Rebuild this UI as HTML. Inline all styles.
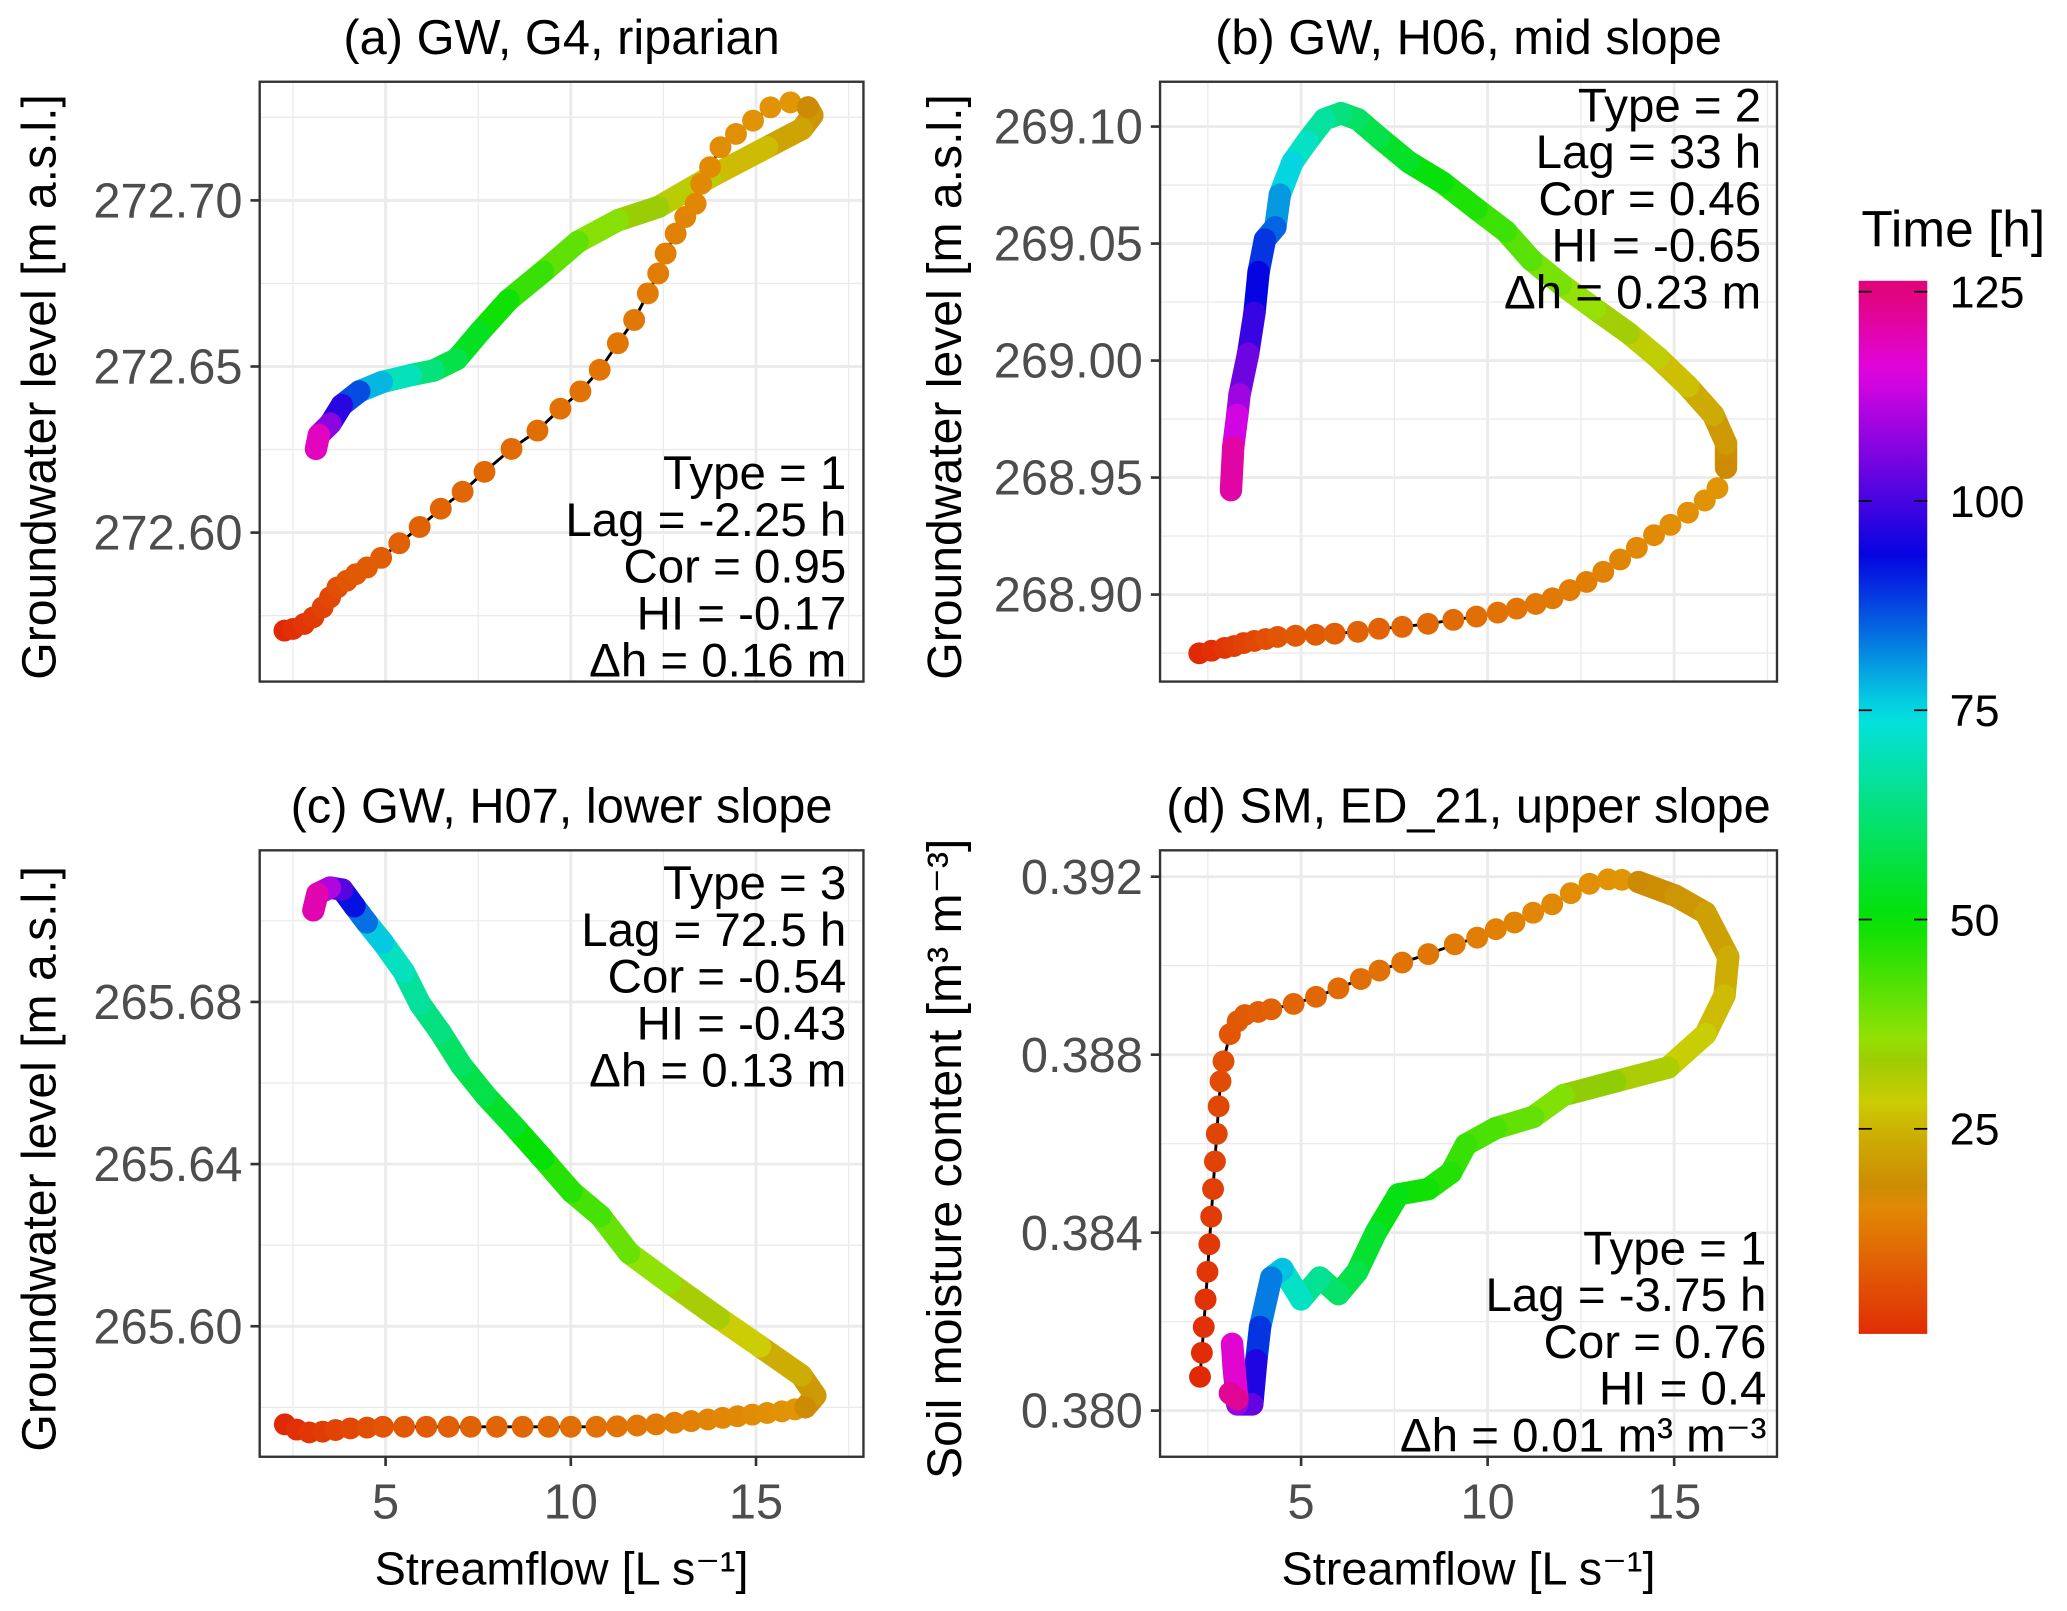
<!DOCTYPE html>
<html><head><meta charset="utf-8">
<style>
html,body{margin:0;padding:0;background:#fff;}
svg{display:block;font-family:"Liberation Sans",Arial,sans-serif;}
</style></head>
<body>
<svg id="fig" xmlns="http://www.w3.org/2000/svg" width="2067" height="1611" viewBox="0 0 1568 1222" preserveAspectRatio="none">
<rect x="0" y="0" width="1568" height="1222" fill="#fff"/>
</svg>
<script>
// ---------- data ----------
const xTicks = [5, 10, 15];
const xTickLabels = ["5", "10", "15"];
const cbTicks = [25, 50, 75, 100, 125];

const tA = [0,1,2,3,4,5,6,7,7.5,8,8.4,8.8,9.2,9.5,9.9,10.3,10.6,11,11.4,11.7,12.1,12.5,12.8,13.2,13.6,13.9,14.3,14.7,15,15.4,15.8,16.1,16.5,16.9,17.2,17.6,18,19,21,24,28,32,35,39,43,47,51,55,60,66,74,82,92,102,112,125];
const qA = [2.27,2.5,2.8,3.05,3.3,3.5,3.7,3.95,4.2,4.5,4.88,5.37,5.92,6.49,7.08,7.67,8.4,9.1,9.72,10.26,10.78,11.27,11.71,12.08,12.36,12.56,12.83,13.09,13.37,13.52,13.76,14.04,14.46,14.92,15.39,15.93,16.4,16.52,16.24,15.3,13.76,12.36,11.27,10.19,9.25,8.32,7.55,6.92,6.3,5.68,4.9,4.29,3.82,3.51,3.2,3.12];
const vA = [272.5705,272.571,272.5725,272.5745,272.5775,272.5805,272.5835,272.5855,272.5875,272.5895,272.5924,272.5968,272.6017,272.6072,272.6123,272.6183,272.6252,272.6307,272.6373,272.6425,272.649,272.657,272.664,272.672,272.678,272.684,272.690,272.695,272.699,272.705,272.710,272.716,272.720,272.724,272.728,272.7295,272.728,272.7256,272.7215,272.716,272.707,272.698,272.694,272.6875,272.6785,272.670,272.6605,272.6522,272.6488,272.6474,272.6453,272.6425,272.6384,272.6328,272.6294,272.6252];
const yTicksA = [272.60, 272.65, 272.70];
const yLabelsA = ["272.60", "272.65", "272.70"];
const statsA = ["Type = 1", "Lag = -2.25 h", "Cor = 0.95", "HI = -0.17", "Δh = 0.16 m"];

const tB = [0,1,2,3,4,5,6,7,7.5,8,8.5,9,9.4,9.9,10.3,10.8,11.2,11.7,12.1,12.6,13,13.5,13.9,14.4,14.8,15.3,15.7,16.2,16.6,17.1,17.5,18,19,22,25,28,31,34,37,40,43,46,49,52,56,59,62,65,69,73,78,83,87,91,96,101,107,111,117,125];
const qB = [2.27,2.6,2.95,3.2,3.46,3.75,4.05,4.37,4.85,5.39,5.9,6.52,7.09,7.71,8.4,9.08,9.7,10.27,10.78,11.29,11.74,12.2,12.65,13.1,13.55,14.0,14.46,14.9,15.37,15.82,16.16,16.39,16.39,16.05,15.37,14.57,13.78,12.87,11.97,11.17,10.49,9.7,8.79,7.89,7.09,6.52,6.07,5.62,5.16,4.77,4.43,4.31,4.03,3.86,3.75,3.58,3.35,3.29,3.18,3.12];
const vB = [268.8749,268.876,268.8772,268.878,268.8793,268.8802,268.881,268.8819,268.8824,268.8828,268.8833,268.8841,268.8854,268.8862,268.8875,268.8892,268.8906,268.8923,268.894,268.896,268.8984,268.9019,268.9054,268.9097,268.915,268.920,268.9254,268.9298,268.935,268.9402,268.9455,268.9542,268.9646,268.9768,268.989,269.0012,269.0117,269.0221,269.0326,269.043,269.0552,269.0648,269.0761,269.0848,269.0953,269.1031,269.1057,269.1031,269.0936,269.0848,269.0709,269.057,269.0517,269.0378,269.0204,269.003,268.9855,268.9768,268.9629,268.9446];
const yTicksB = [268.90, 268.95, 269.00, 269.05, 269.10];
const yLabelsB = ["268.90", "268.95", "269.00", "269.05", "269.10"];
const statsB = ["Type = 2", "Lag = 33 h", "Cor = 0.46", "HI = -0.65", "Δh = 0.23 m"];

const tC = [0,1,2,3,4,5,6,7,7.5,8,8.5,9,9.5,10,10.5,11,11.5,12,12.5,13,13.5,14,14.5,15,15.5,16,16.5,17,17.5,18,19,22,26,30,34,38,42,45,48,52,56,59,62,65,68,73,80,88,97,106,115,125];
const qC = [2.28,2.6,2.94,3.3,3.65,4.05,4.5,4.93,5.5,6.1,6.7,7.3,8.0,8.7,9.4,10.0,10.69,11.25,11.79,12.3,12.8,13.25,13.7,14.1,14.5,14.9,15.3,15.7,16.05,16.33,16.6,16.22,15.11,14.0,12.68,11.57,10.8,10.02,9.25,8.47,7.7,7.04,6.48,5.93,5.49,4.93,4.49,4.16,3.83,3.5,3.16,3.05];
const vC = [265.5758,265.5745,265.5738,265.574,265.5744,265.5748,265.575,265.5752,265.5752,265.5752,265.5752,265.5752,265.5752,265.5752,265.5752,265.5752,265.5752,265.5753,265.5755,265.5758,265.5762,265.5766,265.577,265.5774,265.5778,265.5782,265.5786,265.579,265.5795,265.580,265.5829,265.5879,265.595,265.602,265.6106,265.6181,265.6272,265.6332,265.6413,265.6493,265.6569,265.6644,265.6725,265.6795,265.6875,265.6946,265.6996,265.7036,265.7077,265.7082,265.7067,265.7026];
const yTicksC = [265.60, 265.64, 265.68];
const yLabelsC = ["265.60", "265.64", "265.68"];
const statsC = ["Type = 3", "Lag = 72.5 h", "Cor = -0.54", "HI = -0.43", "Δh = 0.13 m"];

const tD = [0,0.5,1,1.5,2,2.5,3,3.5,4,4.5,5,5.5,6,7,7.5,8,8.5,9,9.5,10,10.5,11,11.5,12,12.5,13,13.5,14,14.5,15,15.5,16,16.5,17,17.5,18,19,21,23,25,27,30,33,36,39,42,44,46,48,50,53,56,59,63,68,74,80,86,92,100,106,110,114,120,125];
const qD = [2.29,2.34,2.39,2.44,2.49,2.54,2.59,2.64,2.69,2.74,2.79,2.84,2.92,3.09,3.3,3.49,3.85,4.2,4.8,5.4,6.0,6.6,7.1,7.71,8.41,9.12,9.72,10.22,10.72,11.22,11.73,12.23,12.73,13.23,13.6,14.04,15.04,15.84,16.45,16.35,15.84,14.84,13.43,12.03,11.22,10.22,9.42,9.02,8.41,7.61,7.0,6.5,6.0,5.5,5.0,4.5,4.2,3.9,3.8,3.69,3.29,3.19,3.15,3.29,3.09];
const vD = [0.38076,0.3813,0.38188,0.3825,0.38312,0.38374,0.38436,0.38498,0.3856,0.38622,0.38684,0.3874,0.38785,0.38846,0.38875,0.38889,0.38896,0.38902,0.38914,0.3893,0.38949,0.3897,0.38989,0.39007,0.39026,0.39048,0.39063,0.39082,0.39097,0.39119,0.39138,0.39163,0.39184,0.39194,0.39193,0.39188,0.39157,0.39119,0.3902,0.38933,0.38846,0.38771,0.3874,0.38709,0.3866,0.38635,0.38598,0.38535,0.38498,0.38486,0.384,0.38312,0.38262,0.38299,0.3825,0.38318,0.38299,0.38188,0.38113,0.38014,0.38014,0.381,0.3815,0.38026,0.38039];
const yTicksD = [0.380, 0.384, 0.388, 0.392];
const yLabelsD = ["0.380", "0.384", "0.388", "0.392"];
const statsD = ["Type = 1", "Lag = -3.75 h", "Cor = 0.76", "HI = 0.4", "Δh = 0.01 m³ m⁻³"];

// ---------- rendering ----------
const NS = "http://www.w3.org/2000/svg";
const svg = document.getElementById("fig");
function mk(tag, attrs, parent) {
  const e = document.createElementNS(NS, tag);
  for (const k in attrs) e.setAttribute(k, attrs[k]);
  (parent || svg).appendChild(e);
  return e;
}
const hueT = [0, 25, 50, 75, 90, 100, 112, 125];
const hueH = [10, 52, 120, 182, 230, 258, 290, 328];
function colorOf(t) {
  let h = hueH[hueH.length - 1];
  for (let i = 0; i < hueT.length - 1; i++) {
    if (t <= hueT[i + 1]) { const f = (t - hueT[i]) / (hueT[i + 1] - hueT[i]); h = hueH[i] + f * (hueH[i + 1] - hueH[i]); break; }
  }
  const l = (h > 40 && h < 80) ? 41 : 45;
  return "hsl(" + h.toFixed(1) + ",96%," + l + "%)";
}

const DOT_END = 18;
function panel(cfg) {
  const g = mk("g", {});
  
  
  const X = q => cfg.xo + cfg.xs * q;
  const Y = v => cfg.yo - (v - cfg.yref) * cfg.ys;
  const vmin = cfg.yref - (cfg.y1 - cfg.yo) / cfg.ys, vmax = cfg.yref + (cfg.yo - cfg.y0) / cfg.ys;
  const step = cfg.yt[1] - cfg.yt[0];
  for (let v = cfg.yt[0] - step * 1.5; v <= vmax + 1e-9; v += step) {
    if (v < vmin) continue;
    const ln = mk("line", {x1: cfg.x0, x2: cfg.x1, y1: Y(v), y2: Y(v), stroke: "#ebebeb", "stroke-width": 1}, g);
    
    
  }
  for (let q = 2.5; q < 18; q += 5) {
    const ln = mk("line", {x1: X(q), x2: X(q), y1: cfg.y0, y2: cfg.y1, stroke: "#ebebeb", "stroke-width": 1}, g);
    
    
  }
  cfg.yt.forEach((v, i) => {
    const ln = mk("line", {x1: cfg.x0, x2: cfg.x1, y1: Y(v), y2: Y(v), stroke: "#ebebeb", "stroke-width": 2.2}, g);
    
    
    const tk = mk("line", {x1: cfg.x0 - 7, x2: cfg.x0, y1: Y(v), y2: Y(v), stroke: "#333", "stroke-width": 2}, g);
    
    
    const tx = mk("text", {x: cfg.x0 - 13, y: Y(v) + 13, "text-anchor": "end", "font-size": 37, fill: "#4d4d4d"}, g);
    tx.textContent = cfg.yl[i];
    
    
  });
  xTicks.forEach((q, i) => {
    const ln = mk("line", {x1: X(q), x2: X(q), y1: cfg.y0, y2: cfg.y1, stroke: "#ebebeb", "stroke-width": 2.2}, g);
    
    
    if (cfg.xlab) {
      const tk = mk("line", {x1: X(q), x2: X(q), y1: cfg.y1, y2: cfg.y1 + 7, stroke: "#333", "stroke-width": 2}, g);
      
      
      const tx = mk("text", {x: X(q), y: cfg.y1 + 47, "text-anchor": "middle", "font-size": 37, fill: "#4d4d4d"}, g);
      tx.textContent = xTickLabels[i];
      
      
    }
  });
  const cid = "clip-" + cfg.name;
  const cp = mk("clipPath", {id: cid}, g);
  mk("rect", {x: cfg.x0, y: cfg.y0, width: cfg.x1 - cfg.x0, height: cfg.y1 - cfg.y0}, cp);
  const dg = mk("g", {"clip-path": "url(#" + cid + ")"}, g);
  
  
  const t = cfg.t, q = cfg.q, v = cfg.v;
  let pts = [];
  for (let i = 0; i < t.length; i++) { if (t[i] <= DOT_END + 1) pts.push(X(q[i]).toFixed(1) + "," + Y(v[i]).toFixed(1)); }
  const pl = mk("polyline", {points: pts.join(" "), fill: "none", stroke: "#000", "stroke-width": 2.2}, dg);
  
  
  for (let i = 0; i < t.length - 1; i++) {
    if (t[i + 1] <= DOT_END) continue;
    const seg = mk("line", {x1: X(q[i]), y1: Y(v[i]), x2: X(q[i + 1]), y2: Y(v[i + 1]), stroke: colorOf((t[i] + t[i + 1]) / 2), "stroke-width": 17, "stroke-linecap": "round"}, dg);
    
    
  }
  for (let i = 0; i < t.length; i++) {
    if (t[i] > DOT_END) continue;
    const c = mk("circle", {cx: X(q[i]), cy: Y(v[i]), r: 8.3, fill: colorOf(t[i])}, dg);
    
    
  }
  const bx = mk("rect", {x: cfg.x0, y: cfg.y0, width: cfg.x1 - cfg.x0, height: cfg.y1 - cfg.y0, fill: "none", stroke: "#333", "stroke-width": 1.8}, g);
  
  
  const ti = mk("text", {x: (cfg.x0 + cfg.x1) / 2, y: cfg.y0 - 21, "text-anchor": "middle", "font-size": 37, fill: "#000"}, g);
  ti.textContent = cfg.title;
  
  
  const yt = mk("text", {x: 0, y: 0, "text-anchor": "middle", "font-size": 36.5, fill: "#000", transform: "translate(" + cfg.ytx + "," + ((cfg.y0 + cfg.y1) / 2 + 4) + ") rotate(-90)"}, g);
  yt.textContent = cfg.ytitle;
  
  
  if (cfg.xlab) {
    const xt = mk("text", {x: (cfg.x0 + cfg.x1) / 2, y: cfg.y1 + 97, "text-anchor": "middle", "font-size": 35.5, fill: "#000"}, g);
    xt.textContent = "Streamflow [L s⁻¹]";
    
    
  }
  cfg.stats.forEach((s, i) => {
    const st = mk("text", {x: cfg.sx, y: cfg.sy + i * 35.5, "text-anchor": "end", "font-size": 36, fill: "#000"}, g);
    st.textContent = s;
    
    
  });
}

panel({name: "panel-a", title: "(a) GW, G4, riparian", x0: 197, x1: 655, y0: 62, y1: 517, xo: 152, xs: 28.1, yo: 404, yref: 272.60, ys: 2520,
  yt: yTicksA, yl: yLabelsA, t: tA, q: qA, v: vA, stats: statsA, sx: 642, sy: 371, ytx: 42, ytitle: "Groundwater level [m a.s.l.]", xlab: false});
panel({name: "panel-b", title: "(b) GW, H06, mid slope", x0: 880, x1: 1348, y0: 62, y1: 517, xo: 845.5, xs: 28.3, yo: 451, yref: 268.90, ys: 1775,
  yt: yTicksB, yl: yLabelsB, t: tB, q: qB, v: vB, stats: statsB, sx: 1336, sy: 92, ytx: 729, ytitle: "Groundwater level [m a.s.l.]", xlab: false});
panel({name: "panel-c", title: "(c) GW, H07, lower slope", x0: 197, x1: 655, y0: 645, y1: 1105, xo: 152, xs: 28.1, yo: 1006, yref: 265.60, ys: 3075,
  yt: yTicksC, yl: yLabelsC, t: tC, q: qC, v: vC, stats: statsC, sx: 642, sy: 682, ytx: 42, ytitle: "Groundwater level [m a.s.l.]", xlab: true});
panel({name: "panel-d", title: "(d) SM, ED_21, upper slope", x0: 880, x1: 1348, y0: 645, y1: 1105, xo: 845.5, xs: 28.3, yo: 1070, yref: 0.380, ys: 33750,
  yt: yTicksD, yl: yLabelsD, t: tD, q: qD, v: vD, stats: statsD, sx: 1340, sy: 959, ytx: 729, ytitle: "Soil moisture content [m³ m⁻³]", xlab: true});

// ---------- colorbar ----------
(function () {
  const g = mk("g", {});
  
  
  const Yc = tt => 1015 - 6.35 * tt;
  const defs = mk("defs", {}, g);
  const lg = mk("linearGradient", {id: "cbgrad", x1: 0, y1: 1, x2: 0, y2: 0}, defs);
  const tTop = 126.3, tBot = 0.5;
  for (let k = 0; k <= 50; k++) {
    const tt = tBot + (tTop - tBot) * k / 50;
    mk("stop", {offset: (k / 50).toFixed(3), "stop-color": colorOf(tt)}, lg);
  }
  const r = mk("rect", {x: 1410, y: Yc(tTop), width: 52, height: Yc(tBot) - Yc(tTop), fill: "url(#cbgrad)"}, g);
  
  
  cbTicks.forEach(tt => {
    const a = mk("line", {x1: 1410, x2: 1420, y1: Yc(tt), y2: Yc(tt), stroke: "#000", "stroke-width": 1.3}, g);
    
    
    const b = mk("line", {x1: 1452, x2: 1462, y1: Yc(tt), y2: Yc(tt), stroke: "#000", "stroke-width": 1.3}, g);
    
    
    const tx = mk("text", {x: 1479, y: Yc(tt) + 12, "font-size": 34, fill: "#000"}, g);
    tx.textContent = String(tt);
    
    
  });
  const ti = mk("text", {x: 1412, y: 187, "font-size": 39, fill: "#000"}, g);
  ti.textContent = "Time [h]";
  
  
})();
</script>
</body></html>
